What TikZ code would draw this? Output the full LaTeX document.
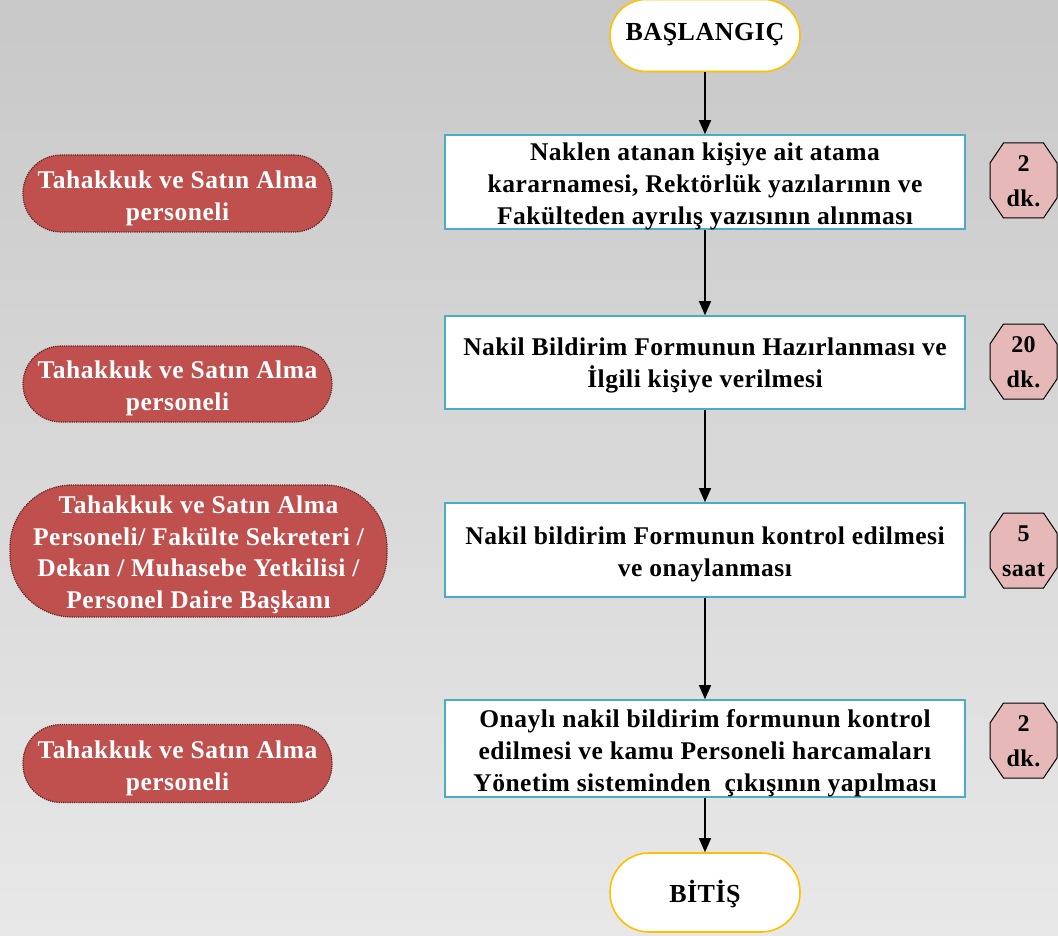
\documentclass[tikz,border=0pt]{standalone}
\usepackage{fontspec}
\setmainfont{Liberation Serif}[LetterSpace=2]
\usetikzlibrary{arrows.meta}
\definecolor{bgtop}{RGB}{200,200,200}
\definecolor{bgbot}{RGB}{232,232,232}
\definecolor{boxblue}{RGB}{75,172,198}
\definecolor{termgold}{RGB}{255,192,0}
\definecolor{redfill}{RGB}{192,80,77}
\definecolor{redline}{RGB}{99,37,35}
\definecolor{pinkfill}{RGB}{230,185,184}
\newcommand{\timeoct}[4]{%
  \begin{scope}[shift={(#2,#3)}]
    \draw[fill=pinkfill, line width=1pt] (-20,-37.5) -- (20,-37.5) -- (33.5,-17.5) -- (33.5,17.5) -- (20,37.5) -- (-20,37.5) -- (-33.5,17.5) -- (-33.5,-17.5) -- cycle;
    \node[timelbl] (#1) at (0,1) {#4};
  \end{scope}}
\begin{document}
\begin{tikzpicture}[x=1pt,y=-1pt,
  every node/.style={font=\bfseries\fontsize{25.5}{32}\selectfont, align=center, inner sep=0pt},
  procbox/.style={draw=boxblue, line width=1.6pt, fill=white, minimum width=520pt},
  termbox/.style={draw=termgold, line width=1.6pt, fill=white, minimum width=190pt, font=\bfseries\fontsize{26}{30}\selectfont},
  rolebox/.style={draw=redline, densely dotted, line width=1.2pt, fill=redfill},
  roletext/.style={text=white},
  flow/.style={line width=1.4pt, -{Triangle[width=12pt,length=14pt]}},
  timelbl/.style={font=\bfseries\fontsize{24}{35}\selectfont}
]
\useasboundingbox (0,0) rectangle (1058,936);
\shade[top color=bgtop, bottom color=bgbot] (0,0) rectangle (1058,936);

% terminals
\node[termbox, minimum height=72pt, rounded corners=36pt] (start) at (705,35.5) {};
\node (startt) at (705,35) {\fontsize{26}{30}\selectfont BAŞLANGIÇ};
\node[termbox, minimum height=79pt, rounded corners=39pt] (end) at (705,892.5) {};
\node (endt) at (705,894.5) {\fontsize{26}{30}\selectfont BİTİŞ};

% process boxes
\node[procbox, minimum height=94pt] (b1) at (705,182) {};
\node (b1t) at (705,186) {Naklen atanan kişiye ait atama\\kararnamesi, Rektörlük yazılarının ve\\Fakülteden ayrılış yazısının alınması};
\node[procbox, minimum height=93pt] (b2) at (705,362.5) {};
\node (b2t) at (705,365.5) {Nakil Bildirim Formunun Hazırlanması ve\\İlgili kişiye verilmesi};
\node[procbox, minimum height=94pt] (b3) at (705,550) {};
\node (b3t) at (705,554) {Nakil bildirim Formunun kontrol edilmesi\\ve onaylanması};
\node[procbox, minimum height=97pt] (b4) at (705,748.5) {};
\node (b4t) at (705,753) {Onaylı nakil bildirim formunun kontrol\\edilmesi ve kamu Personeli harcamaları\\Yönetim sisteminden\ \ çıkışının yapılması};

% role labels
\node[rolebox, minimum width=309pt, minimum height=77pt, rounded corners=38pt] (r1) at (177.5,193.5) {};
\node[roletext] (r1t) at (177.5,198.5) {Tahakkuk ve Satın Alma\\personeli};
\node[rolebox, minimum width=309pt, minimum height=76pt, rounded corners=38pt] (r2) at (177.5,384) {};
\node[roletext] (r2t) at (177.5,388.5) {Tahakkuk ve Satın Alma\\personeli};
\node[rolebox, minimum width=377pt, minimum height=132pt, rounded corners=62pt] (r3) at (198.5,551) {};
\node[roletext, font=\bfseries\fontsize{25.5}{31.5}\selectfont] (r3t) at (198.5,555) {Tahakkuk ve Satın Alma\\Personeli/ Fakülte Sekreteri /\\Dekan / Muhasebe Yetkilisi /\\Personel Daire Başkanı};
\node[rolebox, minimum width=309pt, minimum height=78pt, rounded corners=38pt] (r4) at (177.5,763.5) {};
\node[roletext] (r4t) at (177.5,768) {Tahakkuk ve Satın Alma\\personeli};

% time octagons
\timeoct{t1}{1023.5}{180.5}{2\\dk.}
\timeoct{t2}{1023.5}{361.5}{20\\dk.}
\timeoct{t3}{1023.5}{550.5}{5\\saat}
\timeoct{t4}{1023.5}{740.5}{2\\dk.}

% connectors
\draw[flow] (start) -- (b1);
\draw[flow] (b1) -- (b2);
\draw[flow] (b2) -- (b3);
\draw[flow] (b3) -- (b4);
\draw[flow] (b4) -- (end);
\end{tikzpicture}
\end{document}
